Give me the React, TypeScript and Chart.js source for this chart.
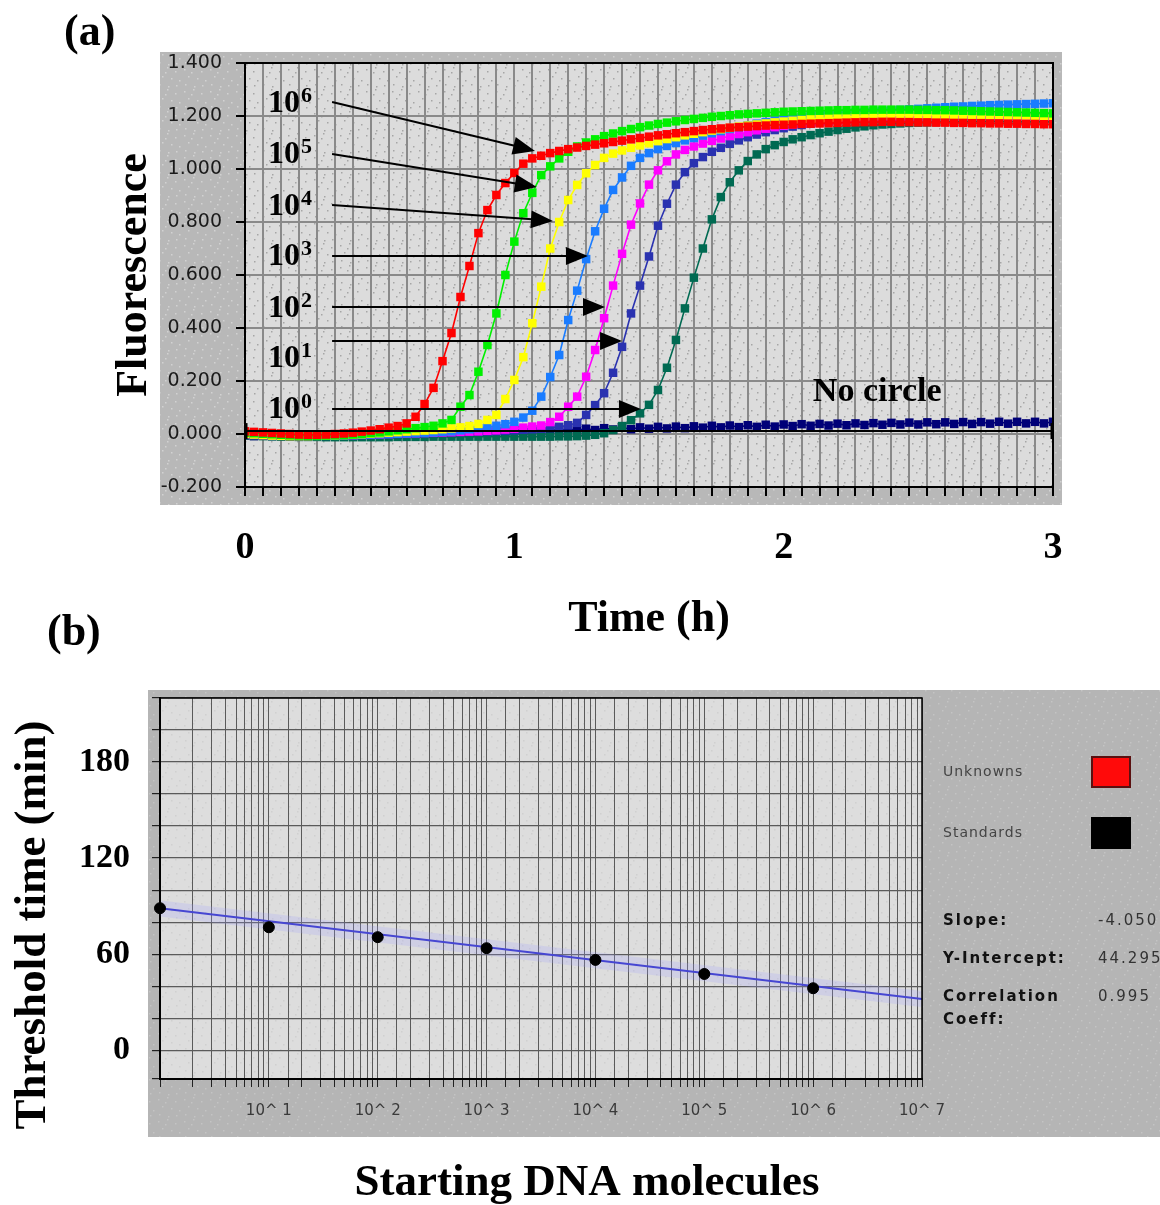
import React, { useEffect, useRef } from 'react';
import { Chart, registerables } from 'chart.js';

Chart.register(...registerables);

const SERIF = '"Liberation Serif", "Times New Roman", serif';
const SANS = '"DejaVu Sans", Verdana, sans-serif';

// ---------- Panel (a): amplification curves ----------
// sample times (minutes), one reading every 2 minutes over 3 h
const TIME_MIN = Array.from({ length: 91 }, (_, i) => i * 2);
const HOUR_TICKS = [0, 1, 2, 3];

const RED_1E6 = [
  0.010, 0.008, 0.006, 0.004, 0.002, 0.000, -0.002, -0.003, -0.003, -0.002,
  0.000, 0.002, 0.005, 0.009, 0.013, 0.018, 0.024, 0.030, 0.040, 0.065,
  0.113, 0.174, 0.275, 0.381, 0.517, 0.634, 0.758, 0.845, 0.902, 0.947,
  0.985, 1.020, 1.040, 1.050, 1.060, 1.068, 1.075, 1.081, 1.087, 1.092,
  1.097, 1.102, 1.107, 1.112, 1.117, 1.122, 1.127, 1.131, 1.135, 1.139,
  1.143, 1.147, 1.150, 1.153, 1.156, 1.158, 1.160, 1.162, 1.164, 1.166,
  1.167, 1.168, 1.170, 1.171, 1.172, 1.173, 1.174, 1.175, 1.176, 1.177,
  1.177, 1.178, 1.178, 1.177, 1.177, 1.176, 1.176, 1.175, 1.175, 1.174,
  1.174, 1.173, 1.173, 1.172, 1.172, 1.171, 1.171, 1.170, 1.170, 1.169, 1.169,
];
const GREEN_1E5 = [
  0.005, 0.003, 0.001, -0.001, -0.003, -0.005, -0.006, -0.007, -0.007, -0.006,
  -0.005, -0.004, -0.002, 0.000, 0.003, 0.006, 0.010, 0.014, 0.018, 0.022,
  0.026, 0.031, 0.040, 0.053, 0.103, 0.147, 0.235, 0.336, 0.455, 0.600,
  0.726, 0.833, 0.910, 0.977, 1.010, 1.040, 1.065, 1.085, 1.100, 1.112,
  1.124, 1.134, 1.143, 1.151, 1.158, 1.164, 1.170, 1.175, 1.180, 1.185,
  1.189, 1.193, 1.197, 1.200, 1.203, 1.206, 1.208, 1.210, 1.212, 1.214,
  1.216, 1.217, 1.218, 1.219, 1.220, 1.221, 1.222, 1.222, 1.223, 1.223,
  1.224, 1.224, 1.224, 1.224, 1.224, 1.223, 1.223, 1.222, 1.222, 1.221,
  1.220, 1.219, 1.218, 1.217, 1.216, 1.215, 1.214, 1.213, 1.212, 1.211, 1.210,
];
const YELLOW_1E4 = [
  0.000, -0.002, -0.004, -0.006, -0.007, -0.008, -0.008, -0.008, -0.007, -0.006,
  -0.005, -0.004, -0.003, -0.001, 0.001, 0.003, 0.005, 0.007, 0.009, 0.011,
  0.013, 0.015, 0.018, 0.021, 0.025, 0.030, 0.038, 0.053, 0.072, 0.132,
  0.204, 0.290, 0.418, 0.556, 0.700, 0.800, 0.883, 0.940, 0.984, 1.015,
  1.042, 1.058, 1.070, 1.080, 1.089, 1.097, 1.105, 1.113, 1.120, 1.127,
  1.133, 1.139, 1.145, 1.150, 1.155, 1.160, 1.164, 1.168, 1.172, 1.176,
  1.179, 1.182, 1.185, 1.188, 1.190, 1.192, 1.194, 1.196, 1.198, 1.199,
  1.200, 1.201, 1.202, 1.203, 1.203, 1.204, 1.204, 1.204, 1.204, 1.204,
  1.204, 1.204, 1.203, 1.203, 1.203, 1.202, 1.202, 1.202, 1.201, 1.201, 1.200,
];
const BLUE_1E3 = [
  0.002, 0.000, -0.002, -0.004, -0.005, -0.006, -0.007, -0.007, -0.007, -0.006,
  -0.006, -0.005, -0.004, -0.003, -0.002, -0.001, 0.000, 0.001, 0.002, 0.003,
  0.004, 0.006, 0.008, 0.010, 0.014, 0.018, 0.022, 0.026, 0.031, 0.037,
  0.046, 0.062, 0.088, 0.141, 0.215, 0.298, 0.430, 0.541, 0.660, 0.765,
  0.850, 0.921, 0.968, 1.012, 1.042, 1.060, 1.075, 1.087, 1.098, 1.108,
  1.117, 1.126, 1.135, 1.143, 1.151, 1.158, 1.165, 1.171, 1.177, 1.182,
  1.187, 1.191, 1.195, 1.199, 1.202, 1.205, 1.208, 1.211, 1.213, 1.215,
  1.217, 1.219, 1.221, 1.223, 1.225, 1.227, 1.229, 1.231, 1.233, 1.235,
  1.236, 1.238, 1.239, 1.241, 1.242, 1.243, 1.244, 1.245, 1.246, 1.247, 1.248,
];
const MAGENTA_1E2 = [
  0.000, -0.002, -0.003, -0.004, -0.005, -0.006, -0.006, -0.006, -0.006, -0.005,
  -0.005, -0.004, -0.004, -0.003, -0.002, -0.001, 0.000, 0.001, 0.002, 0.003,
  0.004, 0.005, 0.006, 0.007, 0.008, 0.009, 0.010, 0.012, 0.014, 0.017,
  0.020, 0.024, 0.028, 0.032, 0.045, 0.065, 0.103, 0.141, 0.216, 0.317,
  0.437, 0.560, 0.680, 0.790, 0.870, 0.941, 0.995, 1.029, 1.055, 1.072,
  1.085, 1.096, 1.106, 1.115, 1.124, 1.132, 1.139, 1.146, 1.152, 1.158,
  1.163, 1.168, 1.172, 1.176, 1.179, 1.182, 1.185, 1.187, 1.189, 1.191,
  1.193, 1.194, 1.195, 1.196, 1.197, 1.198, 1.199, 1.199, 1.200, 1.200,
  1.200, 1.200, 1.200, 1.200, 1.199, 1.199, 1.199, 1.198, 1.198, 1.198, 1.197,
];
const DARKBLUE_1E1 = [
  -0.004, -0.005, -0.006, -0.007, -0.007, -0.008, -0.008, -0.008, -0.007, -0.007,
  -0.006, -0.006, -0.005, -0.004, -0.003, -0.002, -0.001, 0.000, 0.001, 0.002,
  0.003, 0.004, 0.005, 0.006, 0.007, 0.008, 0.009, 0.010, 0.011, 0.012,
  0.014, 0.016, 0.018, 0.020, 0.023, 0.027, 0.033, 0.042, 0.072, 0.109,
  0.154, 0.231, 0.329, 0.455, 0.560, 0.670, 0.786, 0.869, 0.941, 0.988,
  1.022, 1.045, 1.065, 1.080, 1.095, 1.108, 1.120, 1.130, 1.139, 1.147,
  1.154, 1.160, 1.166, 1.171, 1.176, 1.180, 1.184, 1.187, 1.190, 1.192,
  1.194, 1.196, 1.197, 1.198, 1.199, 1.200, 1.201, 1.201, 1.202, 1.202,
  1.202, 1.202, 1.202, 1.202, 1.201, 1.201, 1.201, 1.200, 1.200, 1.200, 1.199,
];
const TEAL_1E0 = [
  -0.006, -0.007, -0.008, -0.009, -0.010, -0.010, -0.011, -0.011, -0.011, -0.012,
  -0.012, -0.012, -0.012, -0.012, -0.012, -0.012, -0.012, -0.011, -0.011, -0.011,
  -0.011, -0.010, -0.010, -0.010, -0.010, -0.010, -0.010, -0.010, -0.010, -0.010,
  -0.010, -0.010, -0.010, -0.010, -0.010, -0.009, -0.009, -0.008, -0.006, -0.003,
  0.003, 0.015, 0.030, 0.052, 0.078, 0.110, 0.166, 0.250, 0.355, 0.474,
  0.590, 0.700, 0.810, 0.894, 0.950, 0.995, 1.030, 1.055, 1.075, 1.090,
  1.102, 1.112, 1.120, 1.128, 1.135, 1.141, 1.147, 1.152, 1.157, 1.161,
  1.165, 1.168, 1.170, 1.172, 1.174, 1.175, 1.176, 1.177, 1.178, 1.178,
  1.179, 1.179, 1.179, 1.179, 1.179, 1.179, 1.178, 1.178, 1.178, 1.178, 1.178,
];
const NAVY_NO_CIRCLE = [
  -0.004, -0.008, -0.003, -0.007, -0.002, -0.007, -0.003, -0.006, -0.002, -0.006,
  -0.001, -0.005, 0.000, -0.004, 0.001, -0.003, 0.002, -0.002, 0.003, -0.001,
  0.004, 0.000, 0.006, 0.002, 0.008, 0.003, 0.010, 0.005, 0.012, 0.007,
  0.013, 0.009, 0.015, 0.010, 0.017, 0.012, 0.019, 0.014, 0.020, 0.015,
  0.022, 0.017, 0.024, 0.018, 0.025, 0.020, 0.027, 0.021, 0.028, 0.022,
  0.029, 0.024, 0.031, 0.025, 0.032, 0.026, 0.033, 0.027, 0.035, 0.028,
  0.036, 0.030, 0.037, 0.031, 0.038, 0.032, 0.039, 0.033, 0.040, 0.034,
  0.041, 0.035, 0.042, 0.036, 0.043, 0.036, 0.044, 0.037, 0.044, 0.038,
  0.045, 0.038, 0.045, 0.039, 0.046, 0.039, 0.046, 0.040, 0.046, 0.040, 0.046,
];
const THRESHOLD_X = [0, 180];
const THRESHOLD_Y = [0.011, 0.011];

const SERIES_LABELS = ['10^6', '10^5', '10^4', '10^3', '10^2', '10^1', '10^0', 'No circle'];
const SERIES_EXP = ['6', '5', '4', '3', '2', '1', '0'];
const SERIES_COLORS = ['#ff0000', '#00f000', '#ffff00', '#1a7cff', '#ff00ff', '#2a32b0', '#006a52', '#000078'];
const SERIES_VALUES = [RED_1E6, GREEN_1E5, YELLOW_1E4, BLUE_1E3, MAGENTA_1E2, DARKBLUE_1E1, TEAL_1E0, NAVY_NO_CIRCLE];

// annotation anchors in data units (minutes, fluorescence)
const LABEL_X_MIN = 5.1;
const LABEL_Y = [1.215, 1.023, 0.826, 0.638, 0.442, 0.253, 0.060];
const ARROW_FROM_X = 19.4;
const ARROW_FROM_Y = [1.253, 1.057, 0.864, 0.672, 0.479, 0.351, 0.094];
const ARROW_TO_X = [64.6, 65.0, 68.6, 76.4, 80.2, 84.0, 88.2];
const ARROW_TO_Y = [1.068, 0.932, 0.804, 0.672, 0.479, 0.351, 0.094];
const NO_CIRCLE_AT = [126.5, 0.125];

// ---------- Panel (b): standard curve ----------
const STD_MOLECULES = [1, 10, 100, 1000, 10000, 100000, 1000000];
const STD_THRESHOLD_MIN = [88.7, 76.8, 70.6, 63.7, 56.4, 47.6, 38.7];
const FIT_X = [1, 10000000];
const FIT_Y = [88.6, 31.9];
const Y_GRID = [-18, 0, 20, 40, 60, 80, 100, 120, 140, 160, 180, 200, 220];
const Y_LABELLED = [0, 60, 120, 180];
const LEGEND_NAMES = ['Unknowns', 'Standards'];
const LEGEND_COLORS = ['#ff0a0a', '#000000'];
const STAT_NAMES = ['Slope:', 'Y-Intercept:', 'Correlation'];
const STAT_VALUES = ['-4.050', '44.295', '0.995'];

const patternCache: Record<string, CanvasPattern | null> = {};
function dotPattern(ctx: CanvasRenderingContext2D, bg: string, dot: string) {
  const key = bg + dot;
  if (patternCache[key]) return patternCache[key] as CanvasPattern;
  const c = document.createElement('canvas');
  c.width = 26;
  c.height = 22;
  const g = c.getContext('2d') as CanvasRenderingContext2D;
  g.fillStyle = bg;
  g.fillRect(0, 0, 26, 22);
  g.fillStyle = dot;
  const spots = [[2, 3], [11, 1], [19, 5], [6, 10], [15, 12], [23, 14], [3, 18], [12, 20], [20, 19], [9, 6]];
  spots.forEach(([x, y]) => g.fillRect(x, y, 1.5, 1.5));
  const p = ctx.createPattern(c, 'repeat');
  patternCache[key] = p;
  return p as CanvasPattern;
}

function drawArrow(ctx: CanvasRenderingContext2D, x0: number, y0: number, x1: number, y1: number) {
  const ang = Math.atan2(y1 - y0, x1 - x0);
  const L = 22;
  const W = 9;
  const bx = x1 - L * Math.cos(ang);
  const by = y1 - L * Math.sin(ang);
  ctx.beginPath();
  ctx.moveTo(x0, y0);
  ctx.lineTo(bx + 1, by);
  ctx.lineWidth = 2;
  ctx.strokeStyle = '#000';
  ctx.stroke();
  ctx.beginPath();
  ctx.moveTo(x1, y1);
  ctx.lineTo(bx + W * Math.sin(ang), by - W * Math.cos(ang));
  ctx.lineTo(bx - W * Math.sin(ang), by + W * Math.cos(ang));
  ctx.closePath();
  ctx.fillStyle = '#000';
  ctx.fill();
}

const panelAPlugin = {
  id: 'panelA',
  beforeDraw(chart: any) {
    const { ctx, chartArea: ca } = chart;
    ctx.save();
    ctx.fillStyle = dotPattern(ctx, '#b8b8b8', '#d2d2d2');
    ctx.fillRect(160, 52, 902, 453);
    ctx.fillStyle = dotPattern(ctx, '#dcdcdc', '#a6a6a6');
    ctx.fillRect(ca.left, ca.top, ca.right - ca.left, ca.bottom - ca.top);
    ctx.restore();
  },
  afterDatasetsDraw(chart: any) {
    const { ctx, chartArea: ca, scales } = chart;
    const sx = scales.x;
    const sy = scales.y;
    ctx.save();
    ctx.strokeStyle = '#000';
    ctx.lineWidth = 2;
    ctx.strokeRect(ca.left, ca.top, ca.right - ca.left, ca.bottom - ca.top);
    ctx.fillStyle = '#000';
    ctx.textAlign = 'left';
    ctx.textBaseline = 'alphabetic';
    SERIES_EXP.forEach((exp, i) => {
      const x = sx.getPixelForValue(LABEL_X_MIN);
      const y = sy.getPixelForValue(LABEL_Y[i]);
      ctx.fillStyle = '#000';
      ctx.font = `bold 32px ${SERIF}`;
      ctx.fillText('10', x, y);
      const w = ctx.measureText('10').width;
      ctx.font = `bold 22px ${SERIF}`;
      ctx.fillText(exp, x + w + 1, y - 10);
      drawArrow(
        ctx,
        sx.getPixelForValue(ARROW_FROM_X),
        sy.getPixelForValue(ARROW_FROM_Y[i]),
        sx.getPixelForValue(ARROW_TO_X[i]),
        sy.getPixelForValue(ARROW_TO_Y[i]),
      );
    });
    ctx.fillStyle = '#000';
    ctx.font = `bold 34px ${SERIF}`;
    ctx.fillText(SERIES_LABELS[7], sx.getPixelForValue(NO_CIRCLE_AT[0]), sy.getPixelForValue(NO_CIRCLE_AT[1]));
    ctx.font = `bold 44px ${SERIF}`;
    ctx.fillText('(a)', 64, 45);
    ctx.restore();
  },
};

const panelBPlugin = {
  id: 'panelB',
  beforeDraw(chart: any) {
    const { ctx, chartArea: ca } = chart;
    ctx.save();
    ctx.fillStyle = dotPattern(ctx, '#b5b5b5', '#c4c4c4');
    ctx.fillRect(148, 100, 1012, 447);
    ctx.fillStyle = dotPattern(ctx, '#dddddd', '#d0d0d0');
    ctx.fillRect(ca.left, ca.top, ca.right - ca.left, ca.bottom - ca.top);
    ctx.restore();
  },
  afterDatasetsDraw(chart: any) {
    const { ctx, chartArea: ca } = chart;
    ctx.save();
    ctx.strokeStyle = '#000';
    ctx.lineWidth = 1.5;
    ctx.strokeRect(ca.left, ca.top, ca.right - ca.left, ca.bottom - ca.top);

    // legend
    ctx.textAlign = 'left';
    ctx.textBaseline = 'middle';
    (ctx as any).letterSpacing = '1px';
    ctx.font = `14px ${SANS}`;
    LEGEND_NAMES.forEach((name, i) => {
      const y = 182 + i * 61;
      ctx.fillStyle = '#444';
      ctx.fillText(name, 943, y);
      ctx.fillStyle = LEGEND_COLORS[i];
      ctx.fillRect(1092, y - 15, 38, 30);
      ctx.strokeStyle = i === 0 ? '#5a1010' : '#000';
      ctx.lineWidth = 2;
      ctx.strokeRect(1092, y - 15, 38, 30);
    });

    // regression statistics
    (ctx as any).letterSpacing = '2px';
    STAT_NAMES.forEach((name, i) => {
      const y = 331 + i * 38;
      ctx.fillStyle = '#111';
      ctx.font = `bold 15px ${SANS}`;
      ctx.fillText(name, 943, y);
      ctx.fillStyle = '#333';
      ctx.font = `15px ${SANS}`;
      ctx.fillText(STAT_VALUES[i], 1098, y);
    });
    ctx.fillStyle = '#111';
    ctx.font = `bold 15px ${SANS}`;
    ctx.fillText('Coeff:', 943, 430);
    (ctx as any).letterSpacing = '0px';

    // axis titles and panel label
    ctx.fillStyle = '#000';
    ctx.font = `bold 45px ${SERIF}`;
    ctx.textAlign = 'center';
    ctx.textBaseline = 'middle';
    ctx.fillText('Starting DNA molecules', 587, 593);
    ctx.save();
    ctx.translate(33, 335);
    ctx.rotate(-Math.PI / 2);
    ctx.fillText('Threshold time (min)', 0, 0);
    ctx.restore();
    ctx.textAlign = 'left';
    ctx.textBaseline = 'alphabetic';
    ctx.font = `bold 44px ${SERIF}`;
    ctx.fillText('(b)', 47, 55);
    ctx.restore();
  },
};

function isPow10(v: number) {
  const e = Math.log10(v);
  return Math.abs(e - Math.round(e)) < 1e-6;
}

export default function App() {
  const refA = useRef<HTMLCanvasElement>(null);
  const refB = useRef<HTMLCanvasElement>(null);

  useEffect(() => {
    const datasetsA: any[] = [
      {
        label: 'threshold',
        data: THRESHOLD_X.map((x, i) => ({ x, y: THRESHOLD_Y[i] })),
        borderColor: '#000',
        borderWidth: 2,
        pointStyle: 'line',
        rotation: 90,
        pointRadius: 8,
        pointBorderWidth: 5,
        pointBorderColor: '#000',
      },
      ...SERIES_VALUES.map((vals, k) => ({
        label: SERIES_LABELS[k],
        data: TIME_MIN.map((t, i) => ({ x: t, y: vals[i] })),
        borderColor: SERIES_COLORS[k],
        backgroundColor: SERIES_COLORS[k],
        borderWidth: 1.6,
        pointStyle: 'rect',
        pointRadius: 6,
        pointBorderWidth: 0,
        pointBackgroundColor: SERIES_COLORS[k],
      })),
    ];

    const chartA = new Chart(refA.current as HTMLCanvasElement, {
      type: 'line',
      data: { datasets: datasetsA },
      plugins: [panelAPlugin],
      options: {
        responsive: false,
        animation: false,
        devicePixelRatio: 1,
        parsing: false as any,
        layout: { padding: { left: 100, top: 63, right: 107, bottom: 4 } },
        plugins: { legend: { display: false }, tooltip: { enabled: false } },
        elements: { line: { tension: 0 } },
        scales: {
          x: {
            type: 'linear',
            position: 'bottom',
            min: 0,
            max: 180,
            weight: 0,
            ticks: { display: false, stepSize: 4, autoSkip: false },
            grid: { color: '#8a8a8a', lineWidth: 2, tickLength: 9, tickColor: '#000', tickWidth: 2 },
            border: { display: true, color: '#000', width: 2 },
            afterFit: (s: any) => { s.height = 9; },
          } as any,
          x2: {
            type: 'linear',
            position: 'bottom',
            min: 0,
            max: 3,
            weight: 1,
            afterBuildTicks: (s: any) => { s.ticks = HOUR_TICKS.map((v) => ({ value: v })); },
            ticks: {
              stepSize: 1,
              maxRotation: 0,
              padding: 29,
              color: '#000',
              font: { family: SERIF, size: 38, weight: 'bold', lineHeight: 1.2 },
            },
            grid: { display: false, drawTicks: false },
            border: { display: false },
            title: {
              display: true,
              text: 'Time (h)',
              color: '#000',
              font: { family: SERIF, size: 44, weight: 'bold', lineHeight: 1.2 },
              padding: { top: 0, bottom: 0 },
            },
            afterFit: (s: any) => { s.height = 150; },
          } as any,
          y: {
            type: 'linear',
            min: -0.2,
            max: 1.4,
            ticks: {
              stepSize: 0.2,
              autoSkip: false,
              padding: 14,
              color: '#1a1a1a',
              font: { family: SANS, size: 19 },
              callback: (v: any) => {
                const n = Number(v);
                return (Math.abs(n) < 1e-9 ? 0 : n).toFixed(3);
              },
            },
            grid: { color: '#8a8a8a', lineWidth: 2, tickLength: 9, tickColor: '#000' },
            border: { color: '#000', width: 2 },
            title: {
              display: true,
              text: 'Fluorescence',
              color: '#000',
              font: { family: SERIF, size: 44, weight: 'bold', lineHeight: 1.2 },
              padding: { top: 8, bottom: 0 },
            },
            afterFit: (s: any) => { s.width = 145; },
          } as any,
        },
      },
    });

    const chartB = new Chart(refB.current as HTMLCanvasElement, {
      type: 'line',
      data: {
        datasets: [
          {
            label: 'Standards',
            data: STD_MOLECULES.map((x, i) => ({ x, y: STD_THRESHOLD_MIN[i] })),
            showLine: false,
            pointRadius: 5.5,
            pointBackgroundColor: '#000',
            pointBorderColor: '#000',
            clip: false as any,
          },
          {
            label: 'Unknowns',
            data: [],
            borderColor: '#ff0a0a',
            pointBackgroundColor: '#ff0a0a',
          },
          {
            label: 'fit',
            data: FIT_X.map((x, i) => ({ x, y: FIT_Y[i] })),
            borderColor: '#4646d2',
            borderWidth: 2,
            pointRadius: 0,
          },
          {
            label: 'fit band',
            data: FIT_X.map((x, i) => ({ x, y: FIT_Y[i] })),
            borderColor: 'rgba(160,160,255,0.22)',
            borderWidth: 16,
            pointRadius: 0,
          },
        ] as any,
      },
      plugins: [panelBPlugin],
      options: {
        responsive: false,
        animation: false,
        devicePixelRatio: 1,
        parsing: false as any,
        layout: { padding: { left: 0, top: 108, right: 238, bottom: 0 } },
        plugins: { legend: { display: false }, tooltip: { enabled: false } },
        scales: {
          x: {
            type: 'logarithmic',
            min: 1,
            max: 10000000,
            ticks: {
              autoSkip: false,
              maxRotation: 0,
              padding: 15,
              color: '#3a3a3a',
              font: { family: SANS, size: 15, lineHeight: 1.2 },
              callback: (v: any) => {
                const n = Number(v);
                if (isPow10(n) && n >= 10) return `10^ ${Math.round(Math.log10(n))}`;
                return '';
              },
            },
            grid: { color: '#5a5a5a', lineWidth: 1, tickLength: 8, tickColor: '#222' },
            border: { color: '#000', width: 2 },
            afterFit: (s: any) => { s.height = 126; },
          } as any,
          y: {
            type: 'linear',
            min: -18,
            max: 220,
            afterBuildTicks: (s: any) => { s.ticks = Y_GRID.map((v) => ({ value: v })); },
            ticks: {
              stepSize: 20,
              autoSkip: false,
              padding: 22,
              color: '#000',
              font: { family: SERIF, size: 34, weight: 'bold' },
              callback: (v: any) => (Y_LABELLED.includes(Math.round(Number(v))) ? String(Math.round(Number(v))) : ''),
            },
            grid: { color: '#5a5a5a', lineWidth: 1.2, tickLength: 8, tickColor: '#222' },
            border: { color: '#000', width: 2 },
            afterFit: (s: any) => { s.width = 160; },
          } as any,
        },
      },
    });

    return () => {
      chartA.destroy();
      chartB.destroy();
    };
  }, []);

  return (
    <div style={{ position: 'absolute', left: 0, top: 0, width: 1160, height: 1205, background: '#fff', overflow: 'hidden' }}>
      <div style={{ position: 'absolute', left: 0, top: 0, width: 1160, height: 650 }}>
        <canvas ref={refA} width={1160} height={650} />
      </div>
      <div style={{ position: 'absolute', left: 0, top: 590, width: 1160, height: 615 }}>
        <canvas ref={refB} width={1160} height={615} />
      </div>
    </div>
  );
}
